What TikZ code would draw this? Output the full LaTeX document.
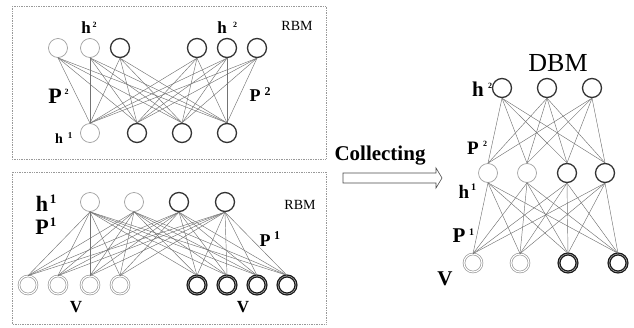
\documentclass[tikz,border=0pt]{standalone}
\usepackage{fontspec}
\setmainfont{Liberation Serif}
\newcommand\fsz[1]{\fontsize{#1}{#1}\selectfont}
\begin{document}
\begin{tikzpicture}[x=1pt,y=-1pt,
  hid/.style={circle,minimum size=19pt,inner sep=0pt,draw=gray!75,line width=0.7pt},
  hidd/.style={circle,minimum size=19pt,inner sep=0pt,draw=black!80,line width=1.3pt},
  vis/.style={circle,minimum size=18pt,inner sep=0pt,draw=gray!80,line width=0.7pt,double=white,double distance=1.1pt},
  visd/.style={circle,minimum size=18pt,inner sep=0pt,draw=black!90,line width=1.3pt,double=gray!60,double distance=0.5pt},
  edge/.style={draw=black!55,line width=0.45pt},
  frame/.style={draw=gray!80,densely dotted,line width=0.7pt},
  lbl/.style={inner sep=0pt,font=\bfseries},
  txt/.style={inner sep=0pt}]
\useasboundingbox (0,0) rectangle (634,327);
% frames
\draw[frame] (12,6) rectangle (326,159);
\draw[frame] (12,172) rectangle (326,324);
% top RBM
\node[hid]  (A1) at (58,48) {};
\node[hid]  (A2) at (90,48) {};
\node[hidd] (A3) at (120,48) {};
\node[hidd] (A4) at (197,48) {};
\node[hidd] (A5) at (227,48) {};
\node[hidd] (A6) at (257,48) {};
\node[hid]  (B1) at (90,133) {};
\node[hidd] (B2) at (137,133) {};
\node[hidd] (B3) at (182,133) {};
\node[hidd] (B4) at (227,133) {};
\foreach \a in {A1,A2,A3,A4,A5,A6}
  \foreach \b in {B1,B2,B3,B4}
    \draw[edge] (\a.south) -- (\b.north);
% bottom RBM
\node[hid]  (C1) at (90,202) {};
\node[hid]  (C2) at (134,202) {};
\node[hidd] (C3) at (179,202) {};
\node[hidd] (C4) at (225,202) {};
\node[vis]  (D1) at (28,285) {};
\node[vis]  (D2) at (58,285) {};
\node[vis]  (D3) at (90,285) {};
\node[vis]  (D4) at (120,285) {};
\node[visd] (D5) at (197,285) {};
\node[visd] (D6) at (227,285) {};
\node[visd] (D7) at (257,285) {};
\node[visd] (D8) at (287,285) {};
\foreach \a in {C1,C2,C3,C4}
  \foreach \b in {D1,D2,D3,D4,D5,D6,D7,D8}
    \draw[edge] (\a.south) -- (\b.north);
% DBM
\node[hidd] (E1) at (502,88) {};
\node[hidd] (E2) at (547,88) {};
\node[hidd] (E3) at (592,88) {};
\node[hid]  (F1) at (488,173) {};
\node[hid]  (F2) at (527,173) {};
\node[hidd] (F3) at (567,173) {};
\node[hidd] (F4) at (605,173) {};
\node[vis]  (G1) at (473,263) {};
\node[vis]  (G2) at (520,263) {};
\node[visd] (G3) at (568,263) {};
\node[visd] (G4) at (618,263) {};
\foreach \a in {E1,E2,E3}
  \foreach \b in {F1,F2,F3,F4}
    \draw[edge] (\a.south) -- (\b.north);
\foreach \a in {F1,F2,F3,F4}
  \foreach \b in {G1,G2,G3,G4}
    \draw[edge] (\a.south) -- (\b.north);
% arrow
\draw[draw=gray!60!black,line width=0.6pt,fill=white,line join=miter]
  (343,173) -- (436,173) -- (436,168) -- (442,178) -- (436,188) -- (436,183) -- (343,183) -- cycle;
\node[lbl,font=\bfseries\fsz{21}] (col) at (380,156) {Collecting};
% labels top RBM
\node[lbl,font=\bfseries\fsz{17}] (th1) at (86,28) {h};
\node[lbl,font=\bfseries\fsz{8}] (th1s) at (94.5,25) {2};
\node[lbl,font=\bfseries\fsz{17}] (th2) at (222,28) {h};
\node[lbl,font=\bfseries\fsz{8}] (th2s) at (235,25) {2};
\node[txt,font=\fsz{14}] (rbm1) at (297,26) {RBM};
\node[lbl,font=\bfseries\fsz{22}] (tp1) at (55,96) {P};
\node[lbl,font=\bfseries\fsz{8}] (tp1s) at (66.5,92) {2};
\node[lbl,font=\bfseries\fsz{18}] (tp2) at (255,96) {P};
\node[lbl,font=\bfseries\fsz{12}] (tp2s) at (267.5,92) {2};
\node[lbl,font=\bfseries\fsz{14}] (th3) at (59,139) {h};
\node[lbl,font=\bfseries\fsz{9}] (th3s) at (70,136) {1};
% labels bottom RBM
\node[lbl,font=\bfseries\fsz{22}] (bh1) at (42,204) {h};
\node[lbl,font=\bfseries\fsz{13}] (bh1s) at (53,199) {1};
\node[lbl,font=\bfseries\fsz{22}] (bp1) at (42,227) {P};
\node[lbl,font=\bfseries\fsz{13}] (bp1s) at (53,222) {1};
\node[txt,font=\fsz{14}] (rbm2) at (300,205) {RBM};
\node[lbl,font=\bfseries\fsz{18}] (bp2) at (265,241) {P};
\node[lbl,font=\bfseries\fsz{12}] (bp2s) at (277,236) {1};
\node[lbl,font=\bfseries\fsz{17}] (bv1) at (76,307) {V};
\node[lbl,font=\bfseries\fsz{17}] (bv2) at (243,307) {V};
% labels DBM
\node[txt,font=\fsz{26}] (dbm) at (558,63) {DBM};
\node[lbl,font=\bfseries\fsz{21}] (dh2) at (478,89) {h};
\node[lbl,font=\bfseries\fsz{8}] (dh2s) at (490,86) {2};
\node[lbl,font=\bfseries\fsz{19}] (dp2) at (473,148) {P};
\node[lbl,font=\bfseries\fsz{8}] (dp2s) at (485,144) {2};
\node[lbl,font=\bfseries\fsz{19}] (dh1) at (464,192) {h};
\node[lbl,font=\bfseries\fsz{10}] (dh1s) at (473.5,187) {1};
\node[lbl,font=\bfseries\fsz{21}] (dp1) at (459,236) {P};
\node[lbl,font=\bfseries\fsz{10}] (dp1s) at (471.5,232) {1};
\node[lbl,font=\bfseries\fsz{21}] (dv) at (445,279) {V};
\end{tikzpicture}
\end{document}
